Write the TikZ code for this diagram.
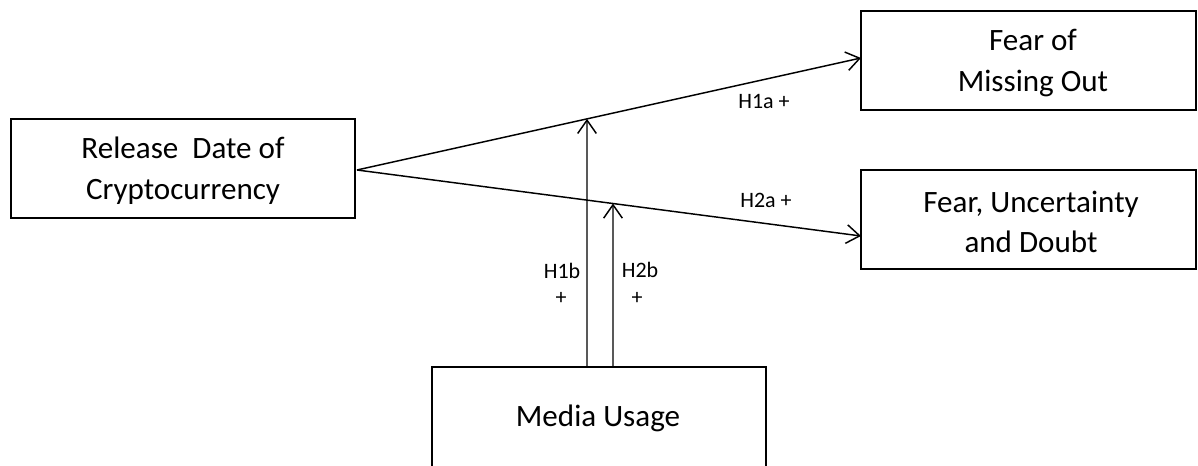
\documentclass[tikz,border=0pt]{standalone}
\usepackage{fontspec}
\setmainfont{Carlito}
\usetikzlibrary{arrows.meta,calc}
\begin{document}
\begin{tikzpicture}[x=0.75pt,y=-0.75pt,
  box/.style={draw,line width=1.1pt,rectangle,inner sep=0pt},
  txt/.style={align=center,inner sep=0pt,font=\fontsize{23.3}{30.5}\selectfont},
  lbl/.style={font=\fontsize{16.5}{18}\selectfont,inner sep=0pt},
  conn/.style={line width=1.1pt,-{Straight Barb[length=10pt,width=14pt,line width=1.1pt]}}]
\useasboundingbox (0,0) rectangle (1198,466);
\clip (0,0) rectangle (1198,466);
\node[box,minimum width=344*0.75pt,minimum height=99*0.75pt] (rel) at (183,168.5) {};
\node[box,minimum width=335*0.75pt,minimum height=99*0.75pt] (fomo) at (1028.5,60.5) {};
\node[box,minimum width=335*0.75pt,minimum height=99*0.75pt] (fud) at (1028.5,219.5) {};
\node[box,minimum width=334*0.75pt,minimum height=104*0.75pt] (media) at (599,419) {};
\node[txt] (reltxt) at (183,171) {Release\ \ Date of\\Cryptocurrency};
\node[txt] (fomotxt) at (1033,63) {Fear of\\Missing Out};
\node[txt] (fudtxt) at (1031,222) {Fear, Uncertainty\\and Doubt};
\node[txt] (mediatxt) at (598,418) {Media Usage};
\coordinate (src) at (357,170);
\coordinate (e1) at (861,58);
\coordinate (e2) at (861,236);
\coordinate (t1) at ($(src)!{230/504}!(e1)$);
\coordinate (t2) at ($(src)!{256/504}!(e2)$);
\coordinate (b1) at (587,367);
\coordinate (b2) at (613,367);
\draw[conn] (src) -- (e1);
\draw[conn] (src) -- (e2);
\draw[conn] (b1) -- (t1);
\draw[conn] (b2) -- (t2);
\node[lbl] (l1a) at (764,102) {H1a +};
\node[lbl] (l2a) at (766,200) {H2a +};
\node[lbl] (l1b) at (562,271) {H1b};
\node[lbl] (l1bp) at (561,298) {+};
\node[lbl] (l2b) at (640,270) {H2b};
\node[lbl] (l2bp) at (637,298) {+};
\end{tikzpicture}
\end{document}
